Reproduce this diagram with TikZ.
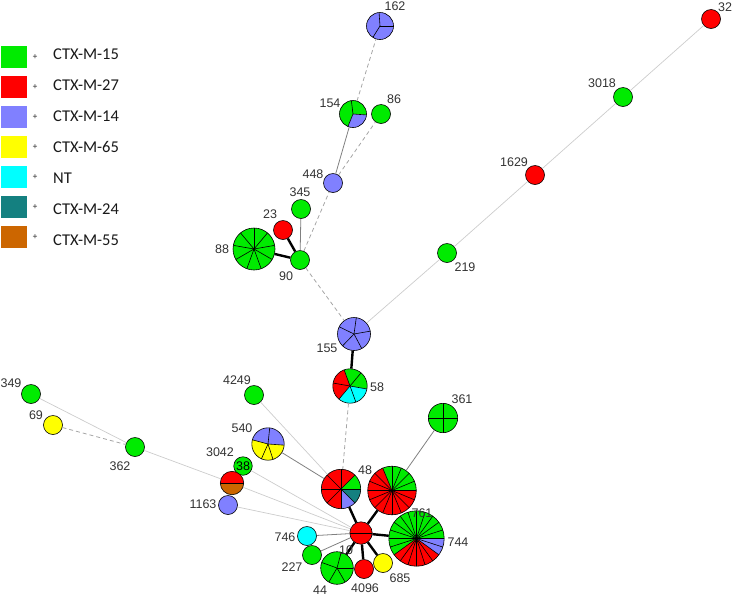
\documentclass[tikz,border=0pt]{standalone}
\usepackage{fontspec}
\setmainfont{Liberation Sans}
\newfontfamily\legfont{Carlito}
\definecolor{c15}{RGB}{0,235,0}     % CTX-M-15
\definecolor{c27}{RGB}{255,0,0}     % CTX-M-27
\definecolor{c14}{RGB}{128,128,255} % CTX-M-14
\definecolor{c65}{RGB}{255,255,0}   % CTX-M-65
\definecolor{cnt}{RGB}{0,255,255}   % NT
\definecolor{c24}{RGB}{20,128,128}  % CTX-M-24
\definecolor{c55}{RGB}{204,102,0}   % CTX-M-55
% filled sectors: node, radius, start/end/colour
\newcommand{\piefill}[3]{%
  \foreach \sa/\ea/\fc in {#3}
    \fill[\fc] (#1.center) -- ++(\sa:#2) arc[start angle=\sa, end angle=\ea, radius=#2] -- cycle;}
% sector borders: node, radius, list of angles
\newcommand{\pielines}[3]{%
  \foreach \la in {#3} \draw[pieline] (#1.center) -- ++(\la:#2);
  \draw[pieline] (#1.center) circle[radius=#2];}
\begin{document}
\begin{tikzpicture}[x=1pt, y=-1pt,
   st/.style={circle, draw=black, line width=0.6pt, inner sep=0pt, minimum size=19pt},
   pie/.style={circle, inner sep=0pt, minimum size=#1},
   pieline/.style={line width=0.6pt, black},
   lab/.style={inner sep=0pt, text=black!80, font=\fontsize{12.5}{14}\selectfont},
   strong/.style={line width=2.4pt, black},
   link/.style={line width=0.8pt, black!50},
   dlink/.style={line width=0.8pt, black!35, dash pattern=on 4pt off 3pt},
   faint/.style={line width=0.7pt, black!20},
   legbox/.style={inner sep=0pt, minimum width=26pt, minimum height=22pt},
   plus/.style={inner sep=0pt, text=black!85, font=\fontsize{8.5}{9}\selectfont},
   legtext/.style={anchor=west, inner sep=0pt, text=black!90, font=\legfont\fontsize{16.5}{18}\selectfont}]
    \useasboundingbox (0,0) rectangle (733,598);

    % 1. Chain at the top right
    \node[st, fill=c27] (n32) at (711,19) {};
    \node[st, fill=c15] (n3018) at (623,97) {};
    \node[st, fill=c27] (n1629) at (535,175) {};
    \node[st, fill=c15] (n219) at (447,253) {};

    % 2. Upper branch
    \node[pie=27pt] (n162) at (380,26) {};
    \node[pie=27pt] (n154) at (353,114) {};
    \node[st, fill=c15] (n86) at (381,114) {};
    \node[st, fill=c14] (n448) at (333,183) {};
    \node[st, fill=c15] (n345) at (301,209) {};
    \node[st, fill=c27] (n23) at (283,230) {};
    \node[pie=42pt] (n88) at (254,249) {};
    \node[st, fill=c15] (n90) at (300,260) {};

    % 3. Middle
    \node[pie=33pt] (n155) at (354,334) {};
    \node[pie=34.4pt] (n58) at (350,386) {};

    % 4. Left group
    \node[st, fill=c15] (n349) at (31,394) {};
    \node[st, fill=c65] (n69) at (53,425) {};
    \node[st, fill=c15] (n362) at (135,447) {};
    \node[st, fill=c15] (n4249) at (254,395) {};
    \node[pie=32.4pt] (n540) at (268,444) {};
    \node[st, fill=c15, minimum size=18.5pt] (n3042) at (243,466) {};
    \node[pie=23.4pt] (nRB) at (232,483) {};
    \node[st, fill=c14] (n1163) at (228,505) {};

    % 5. Bottom cluster
    \node[pie=39.4pt] (n48L) at (341,489) {};
    \node[pie=48.6pt] (n48R) at (392,490.5) {};
    \node[pie=29.4pt] (n361) at (443,418) {};
    \node[pie=55.4pt] (n761) at (416.5,538.5) {};
    \node[pie=22.4pt] (n10) at (361,533) {};
    \node[st, fill=cnt] (n746) at (307,536) {};
    \node[st, fill=c15] (n227) at (312,555) {};
    \node[pie=32.6pt] (n44) at (337,568) {};
    \node[st, fill=c27] (n4096) at (364,569) {};
    \node[st, fill=c65] (n685) at (383,563) {};

    % 6. Pie charts
    \piefill{n162}{13.5pt}{0/360/c14} \pielines{n162}{13.5pt}{0,94,238}
    \piefill{n154}{13.5pt}{-4/248/c15, 248/356/c14} \pielines{n154}{13.5pt}{-4,97,248}
    \piefill{n88}{21pt}{0/360/c15} \pielines{n88}{21pt}{90,130,...,410}
    \piefill{n155}{16.5pt}{0/360/c14} \pielines{n155}{16.5pt}{10,82,...,298}
    \piefill{n58}{17.2pt}{-10/110/c15, 110/230/c27, 230/350/cnt} \pielines{n58}{17.2pt}{-10,50,...,290}
    \piefill{n540}{16.2pt}{-4/165/c14, 165/356/c65} \pielines{n540}{16.2pt}{-4,84,165,246,288}
    \piefill{nRB}{11.7pt}{0/180/c27, 180/360/c55} \pielines{nRB}{11.7pt}{0,180}
    \piefill{n48L}{19.7pt}{0/45/c15, 45/270/c27, 270/315/c14, 315/360/c24} \pielines{n48L}{19.7pt}{0,45,...,315}
    \piefill{n48R}{24.3pt}{0/112.5/c15, 112.5/360/c27} \pielines{n48R}{24.3pt}{0,22.5,...,337.5}
    \piefill{n361}{14.7pt}{0/360/c15} \pielines{n361}{14.7pt}{0,90,180,270}
    \piefill{n761}{27.7pt}{0/216/c15, 216/324/c27, 324/360/c14} \pielines{n761}{27.7pt}{0,18,...,342}
    \piefill{n10}{11.2pt}{0/360/c27} \pielines{n10}{11.2pt}{0,180}
    \piefill{n44}{16.3pt}{0/360/c15} \pielines{n44}{16.3pt}{0,75,160,240,300}

    % 7. Links
    \foreach \a/\b in {n88/n90, n23/n90, n155/n58, n10/n48L, n10/n48R, n10/n761, n10/n44, n10/n4096, n10/n685}
        \draw[strong] (\a) -- (\b);
    \foreach \a/\b in {n345/n90, n448/n154, n540/n48L, n10/n746, n10/n227, n48R/n361}
        \draw[link] (\a) -- (\b);
    \foreach \a/\b in {n154/n162, n448/n86, n90/n448, n90/n155, n58/n48L, n69/n362}
        \draw[dlink] (\a) -- (\b);
    \foreach \a/\b in {n32/n3018, n3018/n1629, n1629/n219, n219/n155, n349/n362, n362/nRB, nRB/n10, n4249/n48L, n3042/n10, n1163/n10}
        \draw[faint] (\a) -- (\b);

    % 8. Labels
    \node[lab] (l32) at (725,7) {32};
    \node[lab] (l3018) at (602,83) {3018};
    \node[lab] (l1629) at (514,162) {1629};
    \node[lab] (l219) at (465,267) {219};
    \node[lab] (l162) at (395,6) {162};
    \node[lab] (l154) at (330,103) {154};
    \node[lab] (l86) at (394,99) {86};
    \node[lab] (l448) at (313,174) {448};
    \node[lab] (l345) at (300,192) {345};
    \node[lab] (l23) at (270,214) {23};
    \node[lab] (l88) at (222,249) {88};
    \node[lab] (l90) at (286,276) {90};
    \node[lab] (l155) at (327,348) {155};
    \node[lab] (l58) at (377,387) {58};
    \node[lab] (l349) at (11,383) {349};
    \node[lab] (l69) at (36,415) {69};
    \node[lab] (l362) at (120,466) {362};
    \node[lab] (l4249) at (237,380) {4249};
    \node[lab] (l540) at (242,428) {540};
    \node[lab] (l3042) at (220,452) {3042};
    \node[lab, text=black] (l38) at (243,466) {38};
    \node[lab] (l1163) at (203,504) {1163};
    \node[lab] (l48) at (365,470) {48};
    \node[lab] (l361) at (462,399) {361};
    \node[lab] (l761) at (422,513) {761};
    \node[lab] (l744) at (458,542) {744};
    \node[lab] (l10) at (346,550) {10};
    \node[lab] (l746) at (285,537) {746};
    \node[lab] (l227) at (292,567) {227};
    \node[lab] (l44) at (320,590) {44};
    \node[lab] (l4096) at (365,588) {4096};
    \node[lab] (l685) at (400,578) {685};

    % 9. Legend
    \foreach \c/\t [count=\i from 0] in {c15/CTX-M-15, c27/CTX-M-27, c14/CTX-M-14, c65/CTX-M-65, cnt/NT, c24/CTX-M-24, c55/CTX-M-55} {
        \node[legbox, fill=\c] (b\i) at (14,{57+30*\i}) {};
        \node[plus] (p\i) at (35,{57+30*\i}) {+};
        \node[legtext] (t\i) at (53,{54+31*\i}) {\t};
    }
\end{tikzpicture}
\end{document}
